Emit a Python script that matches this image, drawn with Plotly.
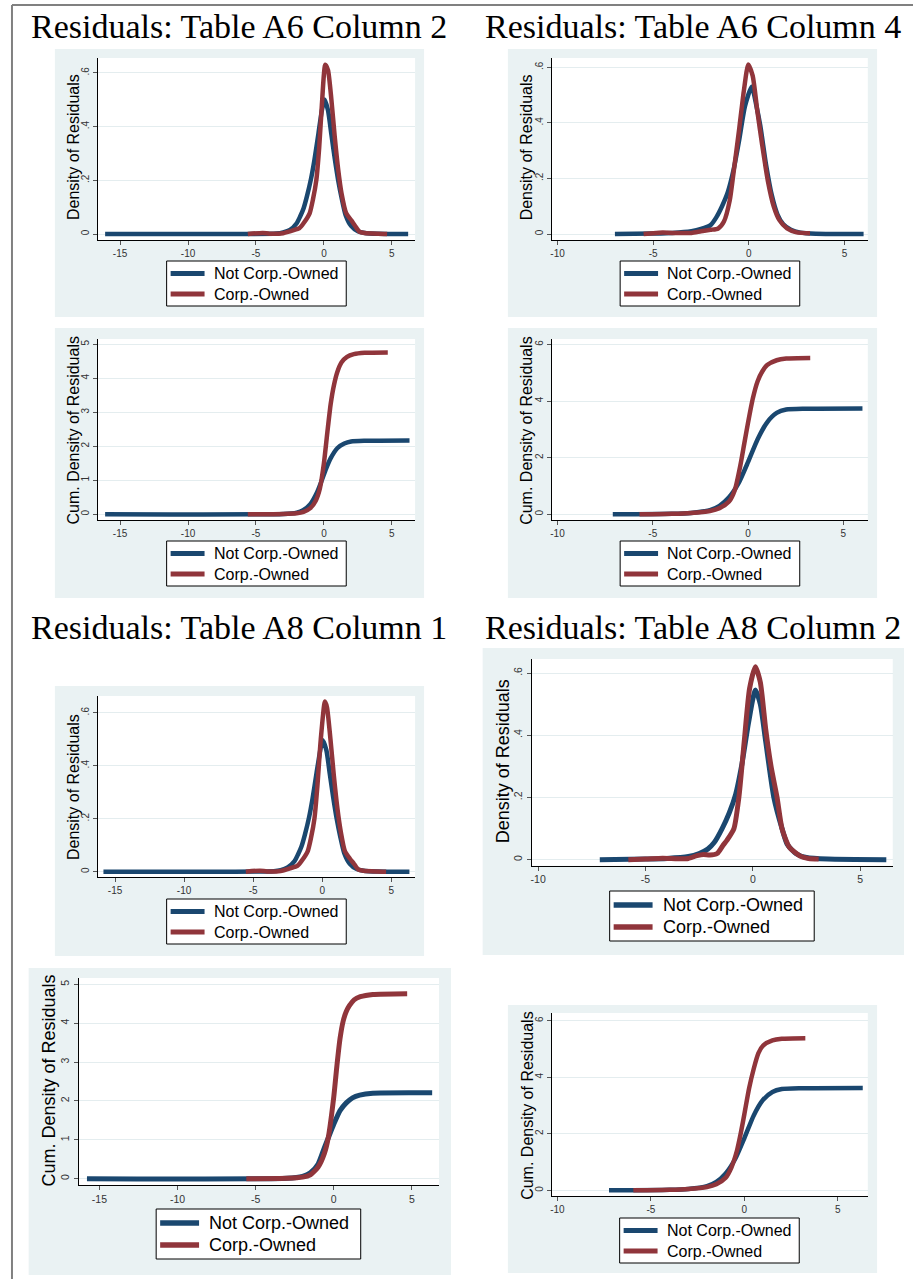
import plotly.graph_objects as go

# ---------------- DATA ----------------
LEGEND_NOT = "Not Corp.-Owned"
LEGEND_CORP = "Corp.-Owned"

TITLES = ["Residuals: Table A6 Column 2", "Residuals: Table A6 Column 4",
          "Residuals: Table A8 Column 1", "Residuals: Table A8 Column 2"]
YTITLE_DENS = "Density of Residuals"
YTITLE_CUM = "Cum. Density of Residuals"

# Table A6 Column 2 - density
A6C2_DEN_X_NOT = [-16.1, -3.5, -3.0, -2.5, -2.0, -1.75, -1.5, -1.25, -0.95, -0.7, -0.4, -0.15, 0.05, 0.3, 0.55, 0.8, 1.05, 1.3, 1.6, 2.0, 2.5, 3.0, 4.0, 6.2]
A6C2_DEN_Y_NOT = [0, 0.002, 0.006, 0.015, 0.04, 0.065, 0.095, 0.14, 0.205, 0.275, 0.375, 0.46, 0.50, 0.46, 0.37, 0.28, 0.20, 0.135, 0.07, 0.03, 0.01, 0.004, 0.001, 0]
A6C2_DEN_X_CORP = [-5.6, -4.5, -4.0, -3.0, -2.5, -2.0, -1.8, -1.5, -1.05, -0.8, -0.56, -0.35, -0.15, 0.1, 0.3, 0.55, 0.8, 1.05, 1.3, 1.64, 2.0, 2.3, 2.6, 3.0, 4.0, 4.65]
A6C2_DEN_Y_CORP = [0, 0.004, 0.001, 0.003, 0.01, 0.018, 0.022, 0.04, 0.077, 0.13, 0.20, 0.32, 0.48, 0.63, 0.61, 0.50, 0.36, 0.24, 0.15, 0.077, 0.052, 0.03, 0.009, 0.004, 0.001, 0]

# Table A6 Column 2 - cumulative
A6C2_CUM_X_NOT = [-16.1, -3.0, -2.0, -1.5, -1.0, -0.5, -0.2, 0.17, 0.5, 1.0, 1.5, 2.0, 3.0, 6.3]
A6C2_CUM_Y_NOT = [0, 0.01, 0.05, 0.13, 0.30, 0.65, 0.95, 1.35, 1.65, 1.95, 2.08, 2.14, 2.16, 2.17]
A6C2_CUM_X_CORP = [-5.6, -3.0, -2.0, -1.5, -1.0, -0.6, -0.3, 0.0, 0.25, 0.5, 0.75, 1.0, 1.3, 1.7, 2.2, 3.0, 4.7]
A6C2_CUM_Y_CORP = [0, 0.01, 0.03, 0.07, 0.18, 0.40, 0.75, 1.5, 2.4, 3.25, 3.82, 4.2, 4.47, 4.63, 4.71, 4.75, 4.76]

# Table A6 Column 4 - density
A6C4_DEN_X_NOT = [-7.0, -5.0, -4.0, -3.0, -2.5, -2.0, -1.7, -1.4, -1.1, -0.8, -0.5, -0.2, 0.15, 0.4, 0.6, 0.9, 1.2, 1.5, 1.8, 2.2, 2.7, 3.5, 6.0]
A6C4_DEN_Y_NOT = [0, 0.002, 0.004, 0.01, 0.018, 0.032, 0.06, 0.10, 0.15, 0.23, 0.34, 0.46, 0.53, 0.46, 0.39, 0.25, 0.14, 0.07, 0.035, 0.015, 0.005, 0.001, 0]
A6C4_DEN_X_CORP = [-5.5, -5.0, -4.5, -4.0, -3.0, -2.5, -2.0, -1.6, -1.3, -1.0, -0.8, -0.5, -0.25, -0.03, 0.2, 0.45, 0.7, 1.0, 1.3, 1.6, 2.0, 2.5, 3.2]
A6C4_DEN_Y_CORP = [0, 0.003, 0.005, 0.004, 0.004, 0.01, 0.015, 0.02, 0.045, 0.12, 0.22, 0.38, 0.52, 0.61, 0.57, 0.44, 0.32, 0.19, 0.10, 0.05, 0.02, 0.006, 0.003]

# Table A6 Column 4 - cumulative
A6C4_CUM_X_NOT = [-7.1, -4.0, -3.0, -2.0, -1.5, -1.0, -0.5, 0.0, 0.5, 1.0, 1.5, 2.0, 3.0, 6.0]
A6C4_CUM_Y_NOT = [0, 0.02, 0.05, 0.15, 0.30, 0.60, 1.10, 1.85, 2.65, 3.25, 3.58, 3.70, 3.73, 3.74]
A6C4_CUM_X_CORP = [-5.7, -4.0, -3.0, -2.0, -1.5, -1.0, -0.7, -0.4, -0.2, 0.0, 0.25, 0.5, 0.75, 1.0, 1.5, 2.0, 3.26]
A6C4_CUM_Y_CORP = [0, 0.02, 0.05, 0.12, 0.22, 0.45, 0.85, 1.75, 2.5, 3.25, 4.1, 4.7, 5.05, 5.27, 5.44, 5.5, 5.52]

# Table A8 Column 1 - density
A8C1_DEN_X_NOT = [-15.84, -3.5, -3.0, -2.5, -2.0, -1.75, -1.5, -1.25, -0.95, -0.7, -0.4, -0.15, 0.02, 0.3, 0.55, 0.8, 1.05, 1.3, 1.6, 2.0, 2.5, 3.0, 4.0, 6.32]
A8C1_DEN_Y_NOT = [0, 0.002, 0.006, 0.016, 0.04, 0.065, 0.095, 0.14, 0.205, 0.275, 0.375, 0.455, 0.497, 0.46, 0.37, 0.28, 0.20, 0.135, 0.07, 0.03, 0.01, 0.004, 0.001, 0]
A8C1_DEN_X_CORP = [-5.53, -4.5, -4.0, -3.0, -2.5, -2.0, -1.8, -1.5, -1.05, -0.8, -0.56, -0.35, -0.1, 0.2, 0.35, 0.6, 0.85, 1.1, 1.35, 1.65, 2.0, 2.3, 2.6, 3.0, 4.0, 4.63]
A8C1_DEN_Y_CORP = [0, 0.004, 0.001, 0.003, 0.01, 0.018, 0.022, 0.04, 0.077, 0.13, 0.20, 0.32, 0.50, 0.642, 0.62, 0.50, 0.36, 0.24, 0.15, 0.077, 0.05, 0.03, 0.009, 0.004, 0.001, 0]

# Table A8 Column 1 - cumulative
A8C1_CUM_X_NOT = [-15.8, -3.0, -2.0, -1.5, -1.0, -0.6, -0.36, 0.0, 0.4, 0.8, 1.2, 1.66, 2.5, 6.3]
A8C1_CUM_Y_NOT = [0, 0.01, 0.06, 0.15, 0.38, 0.80, 1.04, 1.40, 1.75, 1.95, 2.08, 2.15, 2.20, 2.21]
A8C1_CUM_X_CORP = [-5.6, -3.0, -2.0, -1.5, -1.0, -0.6, -0.36, 0.0, 0.2, 0.4, 0.6, 0.8, 1.0, 1.3, 1.7, 2.5, 4.7]
A8C1_CUM_Y_CORP = [0, 0.01, 0.04, 0.10, 0.30, 0.65, 1.04, 2.1, 2.9, 3.6, 4.05, 4.3, 4.45, 4.6, 4.68, 4.74, 4.76]

# Table A8 Column 2 - density
A8C2_DEN_X_NOT = [-7.13, -5.0, -4.0, -3.0, -2.5, -2.1, -1.8, -1.43, -1.1, -0.8, -0.5, -0.2, 0.12, 0.35, 0.6, 0.98, 1.36, 1.6, 2.0, 2.5, 3.5, 6.22]
A8C2_DEN_Y_NOT = [0, 0.002, 0.004, 0.01, 0.02, 0.034, 0.055, 0.10, 0.15, 0.21, 0.31, 0.44, 0.545, 0.50, 0.38, 0.20, 0.10, 0.05, 0.02, 0.007, 0.002, 0]
A8C2_DEN_X_CORP = [-5.8, -5.0, -4.2, -3.5, -3.0, -2.6, -2.3, -2.0, -1.66, -1.4, -1.2, -0.88, -0.65, -0.4, -0.15, 0.12, 0.35, 0.6, 0.85, 1.13, 1.36, 1.7, 2.2, 2.6, 3.07]
A8C2_DEN_Y_CORP = [0, 0.002, 0.005, 0.003, 0.004, 0.013, 0.017, 0.015, 0.02, 0.045, 0.063, 0.10, 0.20, 0.38, 0.55, 0.62, 0.57, 0.42, 0.30, 0.20, 0.10, 0.04, 0.012, 0.004, 0.002]

# Table A8 Column 2 - cumulative
A8C2_CUM_X_NOT = [-7.24, -4.0, -3.0, -2.0, -1.5, -1.0, -0.5, 0.0, 0.5, 1.0, 1.5, 2.0, 3.0, 6.33]
A8C2_CUM_Y_NOT = [0, 0.02, 0.05, 0.15, 0.30, 0.60, 1.10, 1.85, 2.65, 3.20, 3.48, 3.58, 3.61, 3.62]
A8C2_CUM_X_CORP = [-5.94, -4.0, -3.0, -2.0, -1.5, -1.0, -0.7, -0.4, -0.2, 0.0, 0.25, 0.5, 0.75, 1.0, 1.5, 2.0, 3.26]
A8C2_CUM_Y_CORP = [0, 0.02, 0.05, 0.12, 0.22, 0.45, 0.80, 1.4, 2.0, 2.7, 3.6, 4.3, 4.85, 5.12, 5.3, 5.36, 5.38]

X_TICKS_WIDE = [-15, -10, -5, 0, 5]
X_TICKS_NARROW = [-10, -5, 0, 5]
Y_TICKS_DENS = [0, 0.2, 0.4, 0.6]
Y_TICKTEXT_DENS = ["0", ".2", ".4", ".6"]
Y_TICKS_CUM5 = [0, 1, 2, 3, 4, 5]
Y_TICKS_CUM6 = [0, 2, 4, 6]

# ---------------- LAYOUT / STYLE ----------------
W, H = 913, 1279
NAVY = "#1a476f"
MAROON = "#90353b"
BG = "#eaf2f3"
GRID = "#e4edef"
SANS = "Liberation Sans, Arial, sans-serif"
SERIF = "Liberation Serif, Times New Roman, serif"


def px(x):
    return x / W


def py(y):
    return 1 - y / H


# legend box: (width, height, font size, sample length, text offset, row1 offset, row2 offset)
SMALL_LEG = (180, 45, 16, 34, 45, 12.5, 33)
BIG_LEG = (205, 50, 18, 39, 51, 14, 36)

panels = [
    dict(bg=(53, 49, 423, 317), plot=(96, 58, 414, 240), xr=(-16.64, 6.71), yr=(-0.0223, 0.6548),
         xt=X_TICKS_WIDE, yt=Y_TICKS_DENS, ytt=Y_TICKTEXT_DENS, ytitle=YTITLE_DENS, yt_pos=(71.7, 147.5),
         ytfs=16, leg=(165, 261), legs=SMALL_LEG, tfs=10, lw=4.5,
         nx=A6C2_DEN_X_NOT, ny=A6C2_DEN_Y_NOT, cx=A6C2_DEN_X_CORP, cy=A6C2_DEN_Y_CORP),
    dict(bg=(507, 49, 877, 317), plot=(551, 58, 867.7, 240), xr=(-10.30, 6.22), yr=(-0.0216, 0.6335),
         xt=X_TICKS_NARROW, yt=Y_TICKS_DENS, ytt=Y_TICKTEXT_DENS, ytitle=YTITLE_DENS, yt_pos=(526, 147.5),
         ytfs=16, leg=(619.5, 261), legs=SMALL_LEG, tfs=10, lw=4.5,
         nx=A6C4_DEN_X_NOT, ny=A6C4_DEN_Y_NOT, cx=A6C4_DEN_X_CORP, cy=A6C4_DEN_Y_CORP),
    dict(bg=(53, 328, 423, 598), plot=(96, 339, 414, 520), xr=(-16.64, 6.71), yr=(-0.168, 5.156),
         xt=X_TICKS_WIDE, yt=Y_TICKS_CUM5, ytt=[str(v) for v in Y_TICKS_CUM5], ytitle=YTITLE_CUM, yt_pos=(71.7, 430),
         ytfs=16, leg=(165, 541), legs=SMALL_LEG, tfs=10, lw=4.5,
         nx=A6C2_CUM_X_NOT, ny=A6C2_CUM_Y_NOT, cx=A6C2_CUM_X_CORP, cy=A6C2_CUM_Y_CORP),
    dict(bg=(507, 328, 877, 598), plot=(551, 339, 867.7, 520), xr=(-10.30, 6.28), yr=(-0.2, 6.19),
         xt=X_TICKS_NARROW, yt=Y_TICKS_CUM6, ytt=[str(v) for v in Y_TICKS_CUM6], ytitle=YTITLE_CUM, yt_pos=(526, 430),
         ytfs=16, leg=(619.5, 541), legs=SMALL_LEG, tfs=10, lw=4.5,
         nx=A6C4_CUM_X_NOT, ny=A6C4_CUM_Y_NOT, cx=A6C4_CUM_X_CORP, cy=A6C4_CUM_Y_CORP),
    dict(bg=(53, 686, 423, 956), plot=(96, 696, 414, 877.3), xr=(-16.25, 6.73), yr=(-0.0211, 0.663),
         xt=X_TICKS_WIDE, yt=Y_TICKS_DENS, ytt=Y_TICKTEXT_DENS, ytitle=YTITLE_DENS, yt_pos=(71.7, 787.5),
         ytfs=16, leg=(165, 899), legs=SMALL_LEG, tfs=10, lw=4.5,
         nx=A8C1_DEN_X_NOT, ny=A8C1_DEN_Y_NOT, cx=A8C1_DEN_X_CORP, cy=A8C1_DEN_Y_CORP),
    dict(bg=(481.7, 648, 904, 955), plot=(530.7, 659, 892.7, 865.7), xr=(-10.31, 6.52), yr=(-0.0193, 0.645),
         xt=X_TICKS_NARROW, yt=Y_TICKS_DENS, ytt=Y_TICKTEXT_DENS, ytitle=YTITLE_DENS, yt_pos=(501.7, 761.7),
         ytfs=18, leg=(609, 891), legs=BIG_LEG, tfs=10.5, lw=5,
         nx=A8C2_DEN_X_NOT, ny=A8C2_DEN_Y_NOT, cx=A8C2_DEN_X_CORP, cy=A8C2_DEN_Y_CORP),
    dict(bg=(26.7, 968, 450, 1275), plot=(76.7, 978, 438, 1185), xr=(-16.34, 6.74), yr=(-0.162, 5.162),
         xt=X_TICKS_WIDE, yt=Y_TICKS_CUM5, ytt=[str(v) for v in Y_TICKS_CUM5], ytitle=YTITLE_CUM, yt_pos=(46.7, 1081),
         ytfs=18, leg=(154.5, 1209), legs=BIG_LEG, tfs=10.5, lw=5,
         nx=A8C1_CUM_X_NOT, ny=A8C1_CUM_Y_NOT, cx=A8C1_CUM_X_CORP, cy=A8C1_CUM_Y_CORP),
    dict(bg=(507, 1005, 877, 1273), plot=(551, 1013, 867.7, 1196), xr=(-10.30, 6.6), yr=(-0.2, 6.27),
         xt=X_TICKS_NARROW, yt=Y_TICKS_CUM6, ytt=[str(v) for v in Y_TICKS_CUM6], ytitle=YTITLE_CUM, yt_pos=(526, 1105),
         ytfs=16, leg=(619, 1218), legs=SMALL_LEG, tfs=10, lw=4.5,
         nx=A8C2_CUM_X_NOT, ny=A8C2_CUM_Y_NOT, cx=A8C2_CUM_X_CORP, cy=A8C2_CUM_Y_CORP),
]

fig = go.Figure()
shapes = []
annotations = []
layout_extra = {}

for i, p in enumerate(panels):
    k = i + 1
    xa = "x" if k == 1 else f"x{k}"
    ya = "y" if k == 1 else f"y{k}"
    l, t, r, b = p["plot"]

    fig.add_trace(go.Scatter(x=p["nx"], y=p["ny"], mode="lines", name=LEGEND_NOT,
                             line=dict(color=NAVY, width=p["lw"], shape="spline", smoothing=0.6),
                             xaxis=xa, yaxis=ya, showlegend=False, hoverinfo="skip"))
    fig.add_trace(go.Scatter(x=p["cx"], y=p["cy"], mode="lines", name=LEGEND_CORP,
                             line=dict(color=MAROON, width=p["lw"], shape="spline", smoothing=0.6),
                             xaxis=xa, yaxis=ya, showlegend=False, hoverinfo="skip"))

    layout_extra["xaxis" if k == 1 else f"xaxis{k}"] = dict(
        domain=[px(l), px(r)], anchor=ya, range=list(p["xr"]),
        tickmode="array", tickvals=p["xt"], ticktext=[str(v) for v in p["xt"]],
        showgrid=False, zeroline=False, showline=True, linecolor="#000000", linewidth=1,
        ticks="outside", ticklen=4, tickwidth=1, tickcolor="#555555",
        tickfont=dict(family=SANS, size=p["tfs"], color="#333333"), fixedrange=True)
    layout_extra["yaxis" if k == 1 else f"yaxis{k}"] = dict(
        domain=[py(b), py(t)], anchor=xa, range=list(p["yr"]),
        tickmode="array", tickvals=p["yt"], ticktext=p["ytt"], tickangle=-90,
        showgrid=True, gridcolor=GRID, gridwidth=1, zeroline=False,
        showline=True, linecolor="#000000", linewidth=1,
        ticks="outside", ticklen=4, tickwidth=1, tickcolor="#555555",
        tickfont=dict(family=SANS, size=p["tfs"], color="#333333"), fixedrange=True)

    # panel background and plot region
    bl, bt, br, bb = p["bg"]
    shapes.append(dict(type="rect", xref="paper", yref="paper", x0=px(bl), x1=px(br), y0=py(bb), y1=py(bt),
                       fillcolor=BG, line=dict(width=0), layer="below"))
    shapes.append(dict(type="rect", xref="paper", yref="paper", x0=px(l), x1=px(r), y0=py(b), y1=py(t),
                       fillcolor="white", line=dict(width=0), layer="below"))

    # y-axis title
    tx, ty = p["yt_pos"]
    annotations.append(dict(text=p["ytitle"], x=px(tx), y=py(ty), xref="paper", yref="paper",
                            xanchor="center", yanchor="middle", textangle=-90, showarrow=False,
                            font=dict(family=SANS, size=p["ytfs"], color="#000000")))

    # legend box (Stata style)
    gl, gt = p["leg"]
    gw, gh, gfs, glen, gtxt, r1, r2 = p["legs"]
    shapes.append(dict(type="rect", xref="paper", yref="paper", x0=px(gl), x1=px(gl + gw),
                       y0=py(gt + gh), y1=py(gt), fillcolor="white",
                       line=dict(color="#000000", width=1), layer="above"))
    for row, col, name in ((r1, NAVY, LEGEND_NOT), (r2, MAROON, LEGEND_CORP)):
        shapes.append(dict(type="line", xref="paper", yref="paper", x0=px(gl + 4), x1=px(gl + 4 + glen),
                           y0=py(gt + row), y1=py(gt + row), line=dict(color=col, width=p["lw"] + 0.5),
                           layer="above"))
        annotations.append(dict(text=name, x=px(gl + gtxt), y=py(gt + row), xref="paper", yref="paper",
                                xanchor="left", yanchor="middle", showarrow=False,
                                font=dict(family=SANS, size=gfs, color="#000000")))

# page titles
title_pos = [(237.5, 27), (693, 27), (237.5, 627), (693, 627)]
for txt, (tx, ty) in zip(TITLES, title_pos):
    annotations.append(dict(text=txt, x=px(tx), y=py(ty), xref="paper", yref="paper",
                            xanchor="center", yanchor="middle", showarrow=False,
                            font=dict(family=SERIF, size=34, color="#000000")))

# page frame (top and left rules)
shapes.append(dict(type="line", xref="paper", yref="paper", x0=px(10), x1=1, y0=py(5), y1=py(5),
                   line=dict(color="#808080", width=2)))
shapes.append(dict(type="line", xref="paper", yref="paper", x0=px(10), x1=px(10), y0=py(5), y1=0,
                   line=dict(color="#808080", width=2)))

fig.update_layout(
    width=W, height=H, margin=dict(l=0, r=0, t=0, b=0),
    paper_bgcolor="white", plot_bgcolor="white", showlegend=False,
    shapes=shapes, annotations=annotations, **layout_extra)

fig.write_html("out.html", config={"displayModeBar": False},
               post_script="document.body.style.margin='0px';document.documentElement.style.overflow='hidden';")
